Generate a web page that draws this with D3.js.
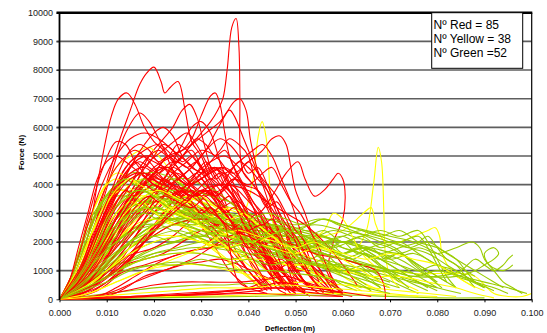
<!DOCTYPE html>
<html>
<head>
<meta charset="utf-8">
<script src="https://cdn.jsdelivr.net/npm/d3@7"></script>
<style>
  html, body { margin: 0; padding: 0; background: #fff; }
  svg { display: block; font-family: "Liberation Sans", Arial, sans-serif; }
</style>
</head>
<body>
<svg id="chart" width="547" height="333"></svg>
<script>
// Axis ticks
const xTicks = [0, 0.01, 0.02, 0.03, 0.04, 0.05, 0.06, 0.07, 0.08, 0.09, 0.1];
const yTicks = [0, 1000, 2000, 3000, 4000, 5000, 6000, 7000, 8000, 9000, 10000];
const legendLines = ["Nº Red = 85", "Nº Yellow = 38", "Nº Green =52"];

// Force–deflection traces: each string is "deflection(mm),force(x100 N)" pairs
const redCurves = [
  "0,0 3,2 6,6 9,12 12,20 15,27 18,33 21,40 24,46 27,52 30,58 32,62 33.5,66 34.6,70 35.5,80 36.5,95 37.4,98 38,88 38.2,70 38.3,50 39,44 41,40 43,35 45,28 47,20 49,10 51,4 53,1",
  "0,0 3,6 6,18 9,35 12,52 15,66 17,75 18.5,79 20,81 21.5,76 22.3,72 23.5,74 25.1,76 26.6,66 28,55 30,50 32,42 34,38 36,30 38,22 40,14 42,8 45,3",
  "0,0 3,8 6,22 8,40 9.6,54 11,64 12.5,70 14.3,72 16,68 18,60 20,55 22,52 24,45 26,40 28,33 30,26 33,18 36,10 40,4",
  "0,0 4,3 8,10 12,22 16,35 20,44 23,50 26,52 28,56 30,64 32,71 33,72 34,68 35,58 36,50 38,42 40,36 42,28 44,18 46,10 48,4",
  "0,0 5,4 10,14 15,26 20,36 25,42 28,46 31,52 33,58 35,64 37,69 38.2,70 39.5,66 40.5,55 42,45 44,38 46,30 48,22 50,12 52,6 55,2",
  "0,0 4,7 8,18 12,30 16,40 19,50 22,56 24,60 26,66 27.6,68 29,64 30.5,55 32,46 34,40 36,36 38,30 40,24 43,15 46,8 50,3",
  "0,0 4,10 8,28 11,44 14,58 17,65 19,62 21,56 23,50 25,46 28,40 31,32 34,25 37,18 40,10 44,4",
  "0,0 5,3 10,10 15,20 20,30 25,38 30,42 34,46 37,44 40,48 43,52 45,56 46.7,57 48,54 49,46 50,38 52,30 54,20 56,12 58,5",
  "0,0 6,4 12,14 18,26 22,34 26,38 30,36 34,40 38,34 42,30 45,36 48,44 50.5,48 52,42 54,36 56,38 58,42 59,44 60,42 60.5,36 60,28 58,20 57,12 58,6 60,2",
  "0,0 3,10 6,28 9,45 12,55 14,54 16,48 18,44 20,42 22,38 25,34 28,30 31,24 34,20 37,14 40,8 43,3",
  "0,0 3,6 6,16 9,30 12,40 15,48 18,52 21,54 24,50 27,46 29,48 31,44 33,38 36,30 39,22 42,16 45,8 48,3",
  "0,0 4,6 8,16 12,28 16,40 19,48 22,52 25,56 27,58 29,54 31,48 33,42 35,44 37,40 39,32 41,24 43,16 46,8 49,2",
  "0,0 5,3 10,8 14,16 18,28 21,38 24,48 26,54 28,60 30,62 32,58 34,48 36,40 38,36 40,30 42,22 44,14 47,6 50,2",
  "0,0 3,4 6,12 9,24 12,36 15,46 18,54 20,58 22,60 24,57 26,50 28,46 30,44 32,40 34,34 36,28 38,20 41,12 44,5",
  "0,0 4,8 8,22 11,36 14,46 17,50 20,48 23,46 26,50 28,52 30,46 32,38 34,32 37,26 40,20 43,12 46,6",
  "0,0 3,5 7,14 11,26 15,36 18,42 21,46 24,44 27,40 30,42 33,46 35,44 37,36 39,28 41,22 43,18 45,12 48,5",
  "0,0 3,8 6,22 9,36 12,46 16,52 19,48 22,42 25,38 28,34 31,30 34,24 37,16 40,10 43,4",
  "0,0 5,6 10,16 14,28 17,38 20,44 23,46 26,42 29,38 32,36 35,30 38,24 41,18 44,10 47,4",
  "0,0 4,1 8,3 12,8 16,16 20,26 24,34 28,40 32,44 35,46 38,42 41,34 44,26 47,18 50,10 53,4",
  "0,0 6,2 10,6 14,12 18,20 22,30 26,38 29,44 32,48 35,50 38,46 41,40 44,34 47,26 50,16 53,8 56,2",
  "0,0 8,1 12,4 16,8 20,12 24,15 28,17 32,18 36,20 40,18 44,14 48,8 52,3",
  "0,0 10,1 14,4 18,8 22,10 26,12 30,13 34,14 38,12 42,9 46,6 50,3",
  "0,0 6,2 10,6 14,10 18,12 22,14 26,16 30,18 33,22 36,26 39,24 42,20 45,14 48,8",
  "0,0 10,0.5 20,1 30,1.5 40,2 50,1.5 60,1",
  "0,0 15,1 25,2 35,3 45,4 55,3 62,1",
  "0,0 20,1 30,2 40,4 45,8 48,12 50,10 52,6 55,4 60,2",
  "0,0 6,3 10,8 14,12 18,14 22,16 26,20 30,24 34,26 38,22 42,18 46,12 50,6",
  "0,0 7,4 10,10 13,14 16,16 20,18 24,22 28,28 31,32 34,30 37,26 40,20 44,14 48,8 52,3",
  "0,0 4,8 8,24 12,38 15,44 18,46 21,42 24,38 27,34 30,30 33,26 36,28 39,22 42,18 45,20 48,14 51,10 54,12 57,6 60,2",
  "0,0 3,6 7,20 11,34 14,42 17,44 20,40 23,36 26,30 29,28 32,24 35,20 38,22 41,16 44,12 47,14 50,8 53,4",
  "0,0 4,4 8,12 12,24 16,36 19,42 22,40 25,44 28,40 31,36 34,32 37,34 40,28 43,24 46,18 49,16 52,10 55,6 58,2",
  "0,0 5,10 9,26 13,40 16,48 19,50 22,46 25,40 28,36 31,38 34,34 37,28 40,26 43,20 46,12 49,6 52,2",
  "0,0 4,3 8,8 12,16 16,26 20,36 24,44 27,48 30,52 33,50 36,44 39,40 42,38 45,30 48,24 51,18 54,10 57,4",
  "0,0 5,4 10,12 15,22 20,32 24,40 28,46 31,52 34,56 36,54 38,50 40,44 42,46 44,40 46,32 48,24 50,16 53,8 56,3",
  "0,0 2,6 4,18 6,30 8,42 10,48 12,50 14,48 17,44 20,40 23,38 26,34 29,30 32,26 35,20 38,14 41,8 44,3",
  "0,0 3,4 6,10 9,18 12,28 15,36 18,40 21,44 24,48 27,46 30,40 33,36 36,40 39,36 42,30 45,22 48,14 51,6",
  "0,0 4,5 8,14 12,26 16,36 20,42 24,40 28,36 32,38 36,34 40,30 44,24 48,20 52,14 56,8 60,3",
  "0,0 5,2 10,6 15,14 20,24 25,34 29,42 32,46 35,44 38,48 41,52 43,54 45,50 47,42 49,34 51,24 53,14 55,6",
  "0,0 3,10 6,26 9,40 12,50 15,56 18,58 21,56 24,52 27,48 30,44 33,46 36,40 39,32 42,24 45,16 48,8",
  "0,0 4,6 8,16 12,28 16,38 20,46 24,50 28,54 31,58 34,62 36,66 37,64 39,56 41,48 43,40 45,30 47,20 50,10 53,4",
  "0,0 6,3 12,10 18,20 24,30 30,38 35,40 40,38 44,34 48,30 52,26 56,20 60,12 63,5",
  "0,0 6,4 12,12 18,20 24,26 30,28 36,26 42,22 48,20 54,16 60,14 64,12 67,10 68.5,6 69,2 69,0",
  "0,0 3,4 6,12 9,24 12,34 15,40 17,44 19,42 21,46 23,50 25,48 27,52 29,56 31,54 33,50 35,52 37,46 39,40 41,34 43,30 45,24 47,18 49,12 51,8 53,4",
  "0,0 4,6 8,18 11,30 14,38 16,36 18,40 20,44 22,42 24,46 26,44 28,40 30,42 32,38 34,34 36,36 38,30 40,24 42,22 44,16 46,10 48,6 50,2",
  "0,0 5,4 9,12 13,24 16,32 19,36 21,34 23,38 25,42 27,40 29,44 31,48 33,44 35,40 37,42 39,38 41,32 43,26 45,28 47,22 49,14 51,8 54,3",
  "0,0 3,6 6,16 9,28 12,38 14,44 16,48 18,46 20,50 22,54 24,52 26,48 28,50 30,46 32,42 34,44 36,38 38,32 40,28 42,30 44,24 46,16 48,8 50,3",
  "0,0 4,4 8,10 12,20 15,28 18,34 21,38 24,36 27,40 30,44 32,48 34,52 36,56 38,54 40,50 41,44 42,38 44,32 46,34 48,28 50,20 52,12 54,6",
  "0,0 6,6 10,14 14,22 18,30 22,36 25,34 28,32 31,36 34,38 37,42 40,40 43,44 45,46 47,40 49,34 51,30 53,24 55,18 57,10 59,4",
  "0,0 3,3 6,8 9,16 12,24 15,32 18,38 20,40 22,38 24,36 26,38 28,34 30,30 32,32 34,28 36,24 38,26 40,20 42,18 44,14 46,12 48,8 50,4",
  "0,0 4,8 7,20 10,32 13,42 15,46 17,48 19,46 21,44 23,46 25,42 27,40 29,36 31,38 33,34 35,30 37,32 39,26 41,20 43,16 45,10 47,6",
  "0,0 5,3 10,8 14,14 18,22 22,28 26,34 29,38 32,42 34,40 36,44 38,48 40,46 42,42 44,38 46,32 48,26 50,22 52,16 54,10 56,6 58,2",
  "0,0 10,2 16,6 22,10 28,14 32,18 36,22 40,24 43,26 45,24 47,20 48,14 49,8 50,4 52,2",
  "0,0 4,5 8,14 12,26 15,34 18,40 20,38 22,42 24,40 26,36 28,38 30,34 32,30 34,32 36,28 38,22 40,18 42,20 44,16 46,10 48,4",
  "0,0 3,4 6,12 9,22 12,32 15,40 17,46 19,50 21,52 23,50 25,54 27,52 29,48 31,44 33,46 35,40 37,36 39,30 41,24 43,18 45,12 47,6",
  "0,0 6,4 12,10 16,16 20,24 24,30 27,34 30,38 33,36 36,40 38,44 40,48 42,44 44,40 46,36 48,30 50,24 52,20 54,14 56,8 58,3",
  "0,0 3,5 6,14 9,26 12,36 15,42 18,44 21,42 24,40 27,38 30,36 33,30 35,26 36,18 37,10 38,6 40,4 44,2",
  "0,0 4,6 8,16 12,28 16,38 19,42 22,40 25,38 28,36 31,32 34,28 37,24 40,22 42,20 44,14 45,8 46,4 48,2",
  "0,0 5,0.5 15,1 25,1.5 35,2 42,3 46,4 50,3 55,2 60,1",
  "0,0 12,0.5 24,1.5 34,2.5 40,3.5 44,5 47,6 50,5 54,4 58,3 62,2 66,1",
  "0,0 8,1 14,3 20,5 26,6 32,6 38,6 44,7 48,8 52,6 56,4 60,2",
  "0,0 4,10 8,26 11,38 13,46 15,52 17,54 19,52 21,48 23,50 25,46 27,42 29,44 31,40 33,36 35,30 37,26 39,20 41,14 43,8 45,4"
];

const yellowCurves = [
  "0,0 4,6 8,16 12,26 16,32 20,34 24,32 28,30 32,28 36,26 39,30 41,42 42,56 42.9,62 43.8,56 44.5,40 45,28 47,20 50,14 53,8 56,4 60,1",
  "0,0 5,6 10,16 15,24 20,28 25,26 30,24 35,22 40,20 45,22 50,20 55,18 60,16 63,18 65,24 66.5,40 67.5,53 68.2,48 68.7,30 69,16 70,8 72,4",
  "0,0 3,8 6,22 9,36 12,46 15,50 17,52 19,53 21,50 23,46 26,40 29,36 32,30 35,24 38,18 41,12 44,6",
  "0,0 4,5 8,14 12,24 16,30 20,32 24,30 28,28 32,26 36,24 40,22 44,24 48,22 52,20 56,22 60,24 63,28 65,31 66,32 67,26 69,20 72,20 75,22 78,24 79.6,25 80.5,22 81,16 83,10 86,6 90,3",
  "0,0 5,3 10,10 15,18 20,22 25,22 30,20 35,18 40,16 45,14 50,12 55,12 60,11 65,10 70,10 75,9 80,9 85,9 88,8 90,5 92,2 95,1 98,1 100,2",
  "0,0 3,10 6,26 9,38 12,44 15,42 18,38 21,36 24,32 27,30 30,26 33,22 36,18 40,14 44,10 48,6 52,3",
  "0,0 4,8 8,22 12,34 15,40 18,42 21,40 24,36 27,32 30,30 33,28 36,24 39,20 42,16 46,12 50,8 54,4",
  "0,0 2,6 4,16 6,26 8,34 10,40 12,42 14,40 17,36 20,32 23,30 26,26 29,22 32,18 35,14 38,10 42,5",
  "0,0 5,6 10,18 14,28 18,34 22,36 26,34 30,30 34,28 38,26 42,22 46,18 50,14 54,12 58,10 62,6 66,3",
  "0,0 3,3 6,8 10,16 14,24 18,30 22,34 26,36 30,34 34,32 38,30 42,26 46,22 50,18 54,16 58,12 62,8 66,4",
  "0,0 4,4 8,12 12,20 16,26 20,28 24,26 28,26 32,24 36,22 40,22 44,20 48,18 52,20 56,24 58,30 60,28 62,22 64,16 68,10 72,6 76,3",
  "0,0 6,2 12,6 18,10 24,12 30,12 36,10 42,8 48,6 54,6 60,5 66,4 72,3 78,2 84,1",
  "0,0 3,5 6,14 9,24 12,32 15,36 18,36 21,34 24,30 28,28 32,26 36,22 40,20 44,16 48,12 52,10 56,8 60,6 64,3",
  "0,0 10,0.5 20,1 30,1 40,1.5 50,2 60,2 70,1.5 80,1",
  "0,0 6,4 12,10 18,14 24,16 30,16 36,14 42,14 48,12 54,12 60,10 66,8 72,8 78,6 84,4 88,2 92,0.5",
  "0,0 4,10 7,24 10,34 13,38 16,36 19,32 22,28 25,26 28,24 31,20 34,16 37,12 40,8 43,4",
  "0,0 5,4 10,10 15,18 20,26 24,32 27,34 30,32 33,30 36,32 39,30 42,26 45,22 48,18 52,12 56,6",
  "0,0 3,4 6,12 9,22 12,30 15,34 18,32 21,30 24,32 27,28 30,26 33,28 36,24 39,22 42,20 45,22 48,18 51,16 54,14 57,12 60,10 64,6 68,3",
  "0,0 4,6 8,16 12,26 15,32 18,36 21,38 24,36 27,34 30,36 33,32 36,28 39,30 42,26 45,22 48,18 51,14 54,10 57,6",
  "0,0 5,4 10,10 15,16 20,20 25,22 30,20 35,18 40,20 45,18 50,16 55,18 60,16 65,14 70,16 75,14 80,12 84,8 88,4",
  "0,0 3,8 6,20 9,30 11,36 13,40 15,42 17,40 19,38 22,34 25,30 28,28 31,24 34,20 37,16 40,12 43,8 46,4",
  "0,0 6,2 12,6 18,10 24,14 30,18 34,22 38,24 42,22 46,20 50,18 54,20 58,16 62,12 66,8 70,4",
  "0,0 8,1 16,2 24,3 32,4 40,4 48,5 56,4 64,3 70,2 76,1"
];

const greenCurves = [
  "0,0 3,8 6,20 9,32 12,40 15,44 18,44 21,42 24,38 27,34 30,30 33,28 36,26 39,22 42,20 45,18 48,14 51,12 54,10 57,8 60,5 63,3",
  "0,0 4,8 8,22 12,34 15,40 18,42 21,40 24,36 27,34 30,32 33,28 36,24 40,22 44,20 48,22 52,18 56,14 60,12 64,8 68,4",
  "0,0 3,6 6,16 9,26 12,34 15,38 18,40 21,40 24,38 27,34 30,30 33,26 36,24 39,22 42,24 45,22 48,20 52,18 56,16 60,14 64,12 68,8 72,5 76,2",
  "0,0 5,8 10,20 14,30 18,36 22,38 26,36 30,34 34,30 38,26 42,24 46,26 50,22 54,20 58,18 62,20 66,16 70,12 74,8 78,4",
  "0,0 2,4 4,12 6,20 8,28 10,34 12,36 14,36 17,34 20,30 23,28 26,26 29,22 32,20 35,18 38,16 41,14 44,10 47,6",
  "0,0 4,4 8,12 12,22 16,30 20,34 24,34 28,32 32,30 36,28 40,26 44,24 48,22 52,20 56,22 60,18 64,16 68,14 72,16 76,12 80,8 84,4",
  "0,0 5,6 10,16 15,24 20,28 25,28 30,26 35,24 40,22 45,20 50,18 55,16 60,14 65,12 70,10 75,8 80,8 85,10 88,14 90,12 92,10 94,12 95,14 96,15.5",
  "0,0 6,6 12,16 18,24 24,28 30,28 36,26 42,24 48,22 54,20 60,20 66,18 72,16 76,18 80,16 84,18 87.4,20 89,18 90,14 92,10 94,6 96,4 98,2",
  "0,0 4,6 8,16 12,24 16,30 20,32 24,30 28,28 32,26 36,24 40,26 44,24 48,22 52,24 56,22 60,20 64,22 68,24 72,22 76,24 78,20 80,14 82,8 84,4",
  "0,0 3,5 6,14 9,22 12,28 15,32 18,34 21,34 24,32 27,30 30,28 34,26 38,24 42,22 46,24 50,20 54,18 58,16 62,14 66,12 70,10 74,6 78,3",
  "0,0 5,1 10,2 15,3 20,4 25,4.5 30,5 35,5 40,5.5 45,5 50,4 55,3 60,2",
  "0,0 4,3 8,8 12,12 16,14 20,16 24,17 28,18 32,18 36,17 40,16 44,14 48,12 52,10 56,8 60,6 64,4",
  "0,0 5,4 10,10 15,14 20,18 25,20 30,22 34,24 38,22 42,20 46,18 50,16 54,14 58,12 62,10 66,8 70,6",
  "0,0 3,10 6,24 9,34 12,40 15,42 18,40 21,38 24,34 27,32 30,28 33,24 36,22 39,20 42,18 45,16 48,14 51,12 54,10 57,6 60,3",
  "0,0 4,6 8,16 12,28 16,36 20,40 23,42 26,40 29,36 32,34 35,30 38,28 41,26 44,24 47,22 50,24 53,20 56,18 59,16 62,14 65,10 68,6",
  "0,0 5,4 10,12 15,22 20,30 24,34 28,36 32,34 36,32 40,30 44,28 48,26 52,24 56,22 60,20 64,18 68,16 72,12 76,8 80,4",
  "0,0 3,4 6,12 9,20 12,28 15,34 18,38 21,40 24,42 27,42 30,40 33,38 36,34 39,30 42,28 45,26 48,24 51,20 54,16 57,12 60,8",
  "0,0 4,4 8,10 12,18 16,24 20,28 24,30 28,30 32,28 36,26 40,24 44,22 48,20 52,18 56,20 60,22 64,18 68,14 72,10 76,6 80,3",
  "0,0 2,6 4,16 6,26 8,32 10,36 12,38 14,38 16,36 19,32 22,28 25,26 28,24 31,22 34,20 37,18 40,16 44,14 48,12 52,10 56,6 60,3",
  "0,0 5,5 10,12 15,20 20,26 25,30 30,32 35,30 40,28 45,26 50,24 55,22 60,20 65,18 70,20 74,18 78,16 82,12 86,8 90,4",
  "0,0 6,4 12,12 18,20 24,26 30,28 36,28 42,26 48,24 54,22 58,24 62,22 66,20 70,18 74,14 78,10 82,6",
  "0,0 4,8 8,20 12,30 16,36 20,38 24,36 28,34 32,30 36,28 40,24 44,22 48,20 52,18 56,16 60,14 64,12 68,10 72,8 76,6 80,4",
  "0,0 3,3 6,8 9,14 12,20 15,24 18,26 21,26 24,24 27,22 30,20 34,18 38,20 42,18 46,16 50,14 54,12 58,10 62,8 66,6 70,4",
  "0,0 5,3 10,8 15,12 20,16 25,18 30,20 35,20 40,18 45,16 50,14 55,12 60,10 65,10 70,8 75,6 80,4 85,2",
  "0,0 4,7 8,18 12,28 16,34 20,36 24,34 28,30 32,28 36,26 40,28 44,26 48,24 52,22 56,18 60,16 64,18 68,16 72,14 76,10 80,6",
  "0,0 3,6 6,14 9,22 12,28 15,32 18,34 21,32 24,30 27,28 30,26 33,24 36,22 40,20 44,18 48,16 52,14 56,12 60,10 64,8 68,6 72,4",
  "0,0 6,6 12,14 18,22 24,28 30,30 36,28 42,26 48,24 54,26 60,24 66,22 70,20 74,18 78,20 82,16 86,12 90,8 94,4",
  "0,0 3,8 6,20 9,30 12,38 15,42 18,44 21,44 24,42 27,38 30,34 33,30 36,28 39,26 42,24 45,22 48,20 52,18 56,14 60,10 64,6",
  "0,0 4,5 8,14 12,24 16,32 20,36 24,38 28,38 32,36 36,34 40,30 44,28 48,26 52,22 56,20 60,18 64,16 68,12 72,8",
  "0,0 5,5 10,12 15,20 20,26 25,28 30,28 35,26 40,26 45,28 50,26 55,28 60,26 65,24 70,22 75,20 80,16 84,12 88,8",
  "0,0 20,0.5 40,1 60,1.5 70,1 80,0.5 90,0.5",
  "0,0 3,6 6,16 9,26 12,32 15,36 18,34 21,36 24,32 27,30 30,28 33,30 36,26 39,24 42,26 45,22 48,24 51,20 54,22 57,18 60,20 63,16 66,18 69,14 72,16 75,12 78,8 81,4",
  "0,0 4,5 8,14 12,22 16,28 20,32 24,30 28,32 32,28 36,26 40,28 44,24 48,26 52,22 56,24 60,20 64,22 68,18 72,20 76,16 80,12 84,10 88,6 92,3",
  "0,0 5,4 10,10 15,18 20,22 25,24 30,22 35,24 40,20 45,22 50,18 55,20 60,16 65,18 70,14 75,16 80,12 85,8 90,4",
  "0,0 3,8 6,22 9,34 12,40 14,42 16,40 18,42 20,38 23,36 26,34 29,30 32,28 35,26 38,28 41,24 44,22 47,24 50,20 53,18 56,20 59,16 62,14 65,16 68,12 71,8 74,4",
  "0,0 6,4 12,10 18,16 24,20 30,22 36,20 40,22 44,20 48,18 52,20 56,18 60,16 64,18 68,16 72,18 76,20 78,22 80,18 82,14 84,12 86,8 88,4",
  "0,0 5,4 10,10 15,16 20,20 25,22 30,24 35,22 40,24 45,26 50,24 53,26 56,28 59,26 62,24 65,22 68,20 71,18 74,14 77,10 80,6",
  "0,0 4,4 8,10 12,16 16,20 20,22 24,20 28,22 32,20 36,18 40,20 44,18 48,16 52,18 56,16 60,14 64,16 68,14 72,12 76,10 80,12 84,8 88,6 92,4 95,2",
  "0,0 3,4 6,10 9,18 12,24 15,28 18,30 21,28 24,30 27,28 30,26 33,28 36,24 39,26 42,22 45,24 48,20 51,22 54,18 57,20 60,16 63,18 66,14 69,10 72,6",
  "0,0 2,5 4,14 6,22 8,30 10,36 12,40 14,42 16,40 18,38 20,36 23,32 26,30 29,28 32,24 35,26 38,22 41,20 44,18 47,20 50,16 53,14 56,16 59,12 62,10 65,8 68,4",
  "0,0 4,6 8,14 12,20 16,24 20,26 24,28 28,26 32,28 36,30 40,28 44,30 48,28 52,26 56,28 60,26 64,24 68,22 72,24 76,20 80,18 84,14 86,10 88,6",
  "0,0 6,4 12,10 18,14 24,16 30,16 36,14 42,16 48,14 54,12 60,12 66,10 72,10 78,8 84,8 88,10 90,12 92,14 93,16 92,18 90,16 91,12 94,10 96,12",
  "0,0 5,3 10,6 15,10 20,12 25,12 30,14 35,12 40,14 45,12 50,14 55,12 60,10 65,12 70,10 75,8 80,10 85,8 90,6 95,4 99,2",
  "0,0 3,5 6,12 9,20 12,26 15,30 18,32 21,30 24,28 27,26 30,24 33,22 36,20 39,22 42,18 45,16 48,18 51,14 54,12 57,10 60,8 63,6 66,3",
  "0,0 4,8 8,20 11,30 14,36 17,38 20,36 23,34 26,32 29,30 32,26 35,24 38,22 41,20 44,18 47,16 50,14 53,12 56,14 59,10 62,8 65,5",
  "0,0 5,6 10,14 15,20 20,24 25,26 30,24 35,22 40,20 44,22 48,24 52,22 56,20 60,22 64,24 68,22 72,20 76,22 78,18 80,12 82,6",
  "0,0 4,3 8,6 12,9 16,11 20,12 25,13 30,12 35,11 40,10 45,10 50,9 55,8 60,6 65,4 70,2"
];

const seriesColors = { red: "#ff0000", yellow: "#ffff00", green: "#99cc00" };

// Turn "mm,hundredsN" pairs into [metres, newtons]
function parseCurve(s) {
  return s.trim().split(/\s+/).map(p => {
    const [a, b] = p.split(",").map(Number);
    return [a / 1000, b * 100];
  });
}

const svg = d3.select("#chart");
const x = d3.scaleLinear().domain([0, 0.1]).range([59.5, 531.7]);
const y = d3.scaleLinear().domain([0, 10000]).range([299.3, 12.7]);

// Horizontal gridlines (with small outside tick stubs)
svg.append("g")
  .selectAll("line")
  .data(yTicks.filter(v => v > 0 && v < 10000))
  .join("line")
  .attr("x1", x(0) - 3)
  .attr("x2", x(0.1))
  .attr("y1", d => y(d))
  .attr("y2", d => y(d))
  .attr("stroke", "#5e5e5e")
  .attr("stroke-width", 1.6);

// Y axis labels
const yAxis = svg.append("g")
  .attr("transform", `translate(${x(0)},0)`)
  .call(d3.axisLeft(y).tickValues(yTicks).tickSize(3).tickSizeOuter(0).tickPadding(3.6).tickFormat(d3.format("d")));
yAxis.select(".domain").remove();
yAxis.selectAll("line").attr("stroke", "#333");
yAxis.selectAll("text").attr("font-size", 9).attr("fill", "#1a1a1a")
  .attr("font-family", "'Liberation Sans', Arial, sans-serif");

// X axis
const xAxis = svg.append("g")
  .attr("transform", `translate(0,${y(0)})`)
  .call(d3.axisBottom(x).tickValues(xTicks).tickSize(3).tickSizeOuter(0).tickPadding(7).tickFormat(d3.format(".3f")));
xAxis.select(".domain").attr("stroke", "#000").attr("stroke-width", 1.4);
xAxis.selectAll("line").attr("stroke", "#000");
xAxis.selectAll("text").attr("font-size", 9).attr("fill", "#1a1a1a")
  .attr("font-family", "'Liberation Sans', Arial, sans-serif");

// Clip traces to the plot frame
svg.append("defs").append("clipPath").attr("id", "plotClip")
  .append("rect")
  .attr("x", x(0)).attr("y", y(10000))
  .attr("width", x(0.1) - x(0)).attr("height", y(0) - y(10000) + 0.6);

const line = d3.line()
  .x(d => x(d[0]))
  .y(d => y(d[1]))
  .curve(d3.curveCatmullRom.alpha(0.5));

// Spread each colour evenly through the drawing order so the groups interleave
const groups = [["red", redCurves], ["yellow", yellowCurves], ["green", greenCurves]];
const traceList = [];
groups.forEach(([key, curves]) => {
  curves.forEach((s, i) => {
    traceList.push({ key, order: (i + 0.5) / curves.length, pts: parseCurve(s) });
  });
});
traceList.sort((a, b) => a.order - b.order);

svg.append("g").attr("clip-path", "url(#plotClip)")
  .selectAll("path")
  .data(traceList)
  .join("path")
  .attr("d", d => line(d.pts))
  .attr("fill", "none")
  .attr("stroke", d => seriesColors[d.key])
  .attr("stroke-width", 1.1)
  .attr("stroke-linejoin", "round");

// Frame: left axis, right edge, heavy top edge
svg.append("line")
  .attr("x1", x(0)).attr("x2", x(0)).attr("y1", y(10000)).attr("y2", y(0) + 0.7)
  .attr("stroke", "#000").attr("stroke-width", 1.8);
svg.append("line")
  .attr("x1", x(0.1)).attr("x2", x(0.1)).attr("y1", y(10000)).attr("y2", y(0))
  .attr("stroke", "#000").attr("stroke-width", 1.2);
svg.append("line")
  .attr("x1", x(0) - 3).attr("x2", x(0.1) + 0.6).attr("y1", y(10000)).attr("y2", y(10000))
  .attr("stroke", "#000").attr("stroke-width", 2.6);

// Axis titles
svg.append("text")
  .attr("x", 290).attr("y", 331)
  .attr("text-anchor", "middle")
  .attr("font-size", 7.5).attr("font-weight", "bold").attr("fill", "#000")
  .text("Deflection (m)");
svg.append("text")
  .attr("transform", "translate(24,152.5) rotate(-90)")
  .attr("text-anchor", "middle")
  .attr("font-size", 8).attr("font-weight", "bold").attr("fill", "#000")
  .text("Force (N)");

// Count box
const legend = svg.append("g");
legend.append("rect")
  .attr("x", 431.7).attr("y", y(10000))
  .attr("width", 91).attr("height", 55.6)
  .attr("fill", "#fff").attr("stroke", "#000").attr("stroke-width", 1);
legend.selectAll("text")
  .data(legendLines)
  .join("text")
  .attr("x", 433.6)
  .attr("y", (d, i) => 29.3 + i * 14)
  .attr("font-size", 12).attr("fill", "#000")
  .text(d => d);
</script>
</body>
</html>
